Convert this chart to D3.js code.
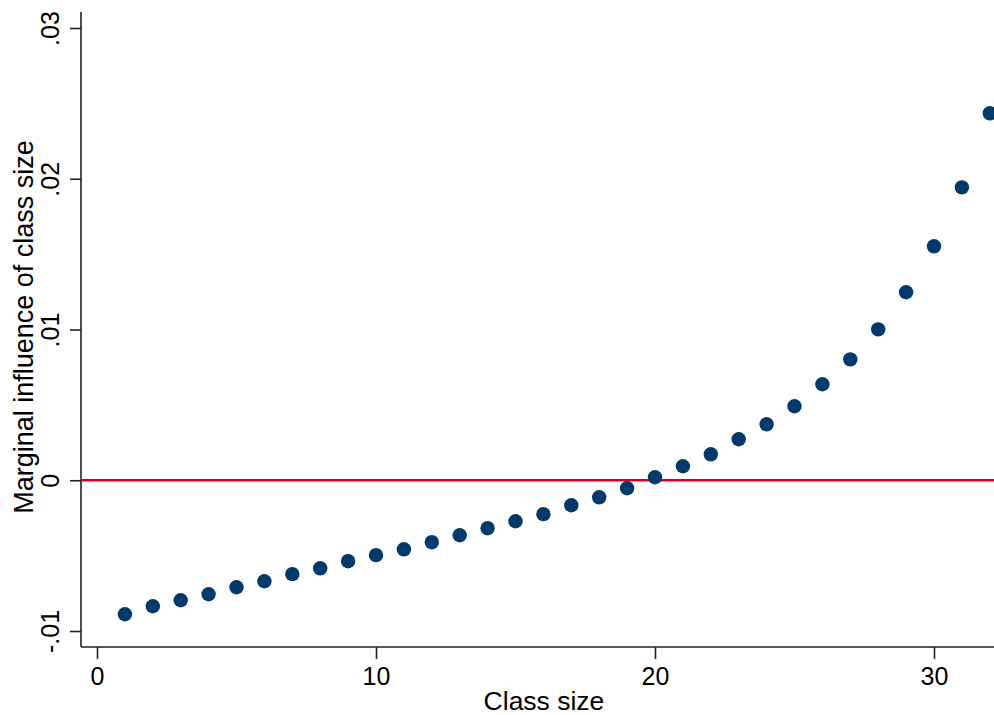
<!DOCTYPE html>
<html>
<head>
<meta charset="utf-8">
<script src="https://cdn.jsdelivr.net/npm/d3@7"></script>
<style>
  body { margin: 0; background: #fff; }
  svg { display: block; font-family: Arial, "Liberation Sans", sans-serif; }
</style>
</head>
<body>
<svg id="chart" width="994" height="715"></svg>
<script>
const classSize = [1,2,3,4,5,6,7,8,9,10,11,12,13,14,15,16,17,18,19,20,21,22,23,24,25,26,27,28,29,30,31,32];
const marginal = [-0.00889,-0.00836,-0.00796,-0.00756,-0.00710,-0.00670,-0.00623,-0.00584,-0.00537,-0.00497,
  -0.00458,-0.00411,-0.00365,-0.00318,-0.00272,-0.00225,-0.00166,-0.00113,-0.00053,0.00020,
  0.00093,0.00172,0.00272,0.00371,0.00491,0.00637,0.00802,0.01001,0.01247,0.01552,0.01943,0.02434];
const xTicks = [0,10,20,30];
const yTicks = [-0.01,0,0.01,0.02,0.03];
const yTickLabels = ["-.01","0",".01",".02",".03"];
const xTitle = "Class size";
const yTitle = "Marginal influence of class size";

const svg = d3.select("#chart");
const x = d3.scaleLinear().domain([0,30]).range([97,934]);
const y = d3.scaleLinear().domain([-0.01,0.03]).range([631,28]);
const axisX0 = 81, axisY0 = 647;

// axes lines
svg.append("line").attr("x1",axisX0).attr("x2",994).attr("y1",axisY0).attr("y2",axisY0)
  .attr("stroke","#222").attr("stroke-width",1.6);
svg.append("line").attr("x1",axisX0).attr("x2",axisX0).attr("y1",12).attr("y2",axisY0)
  .attr("stroke","#222").attr("stroke-width",1.6);

// x axis
const xAxis = d3.axisBottom(x).tickValues(xTicks).tickSize(12).tickPadding(8).tickFormat(d3.format("d"));
const gx = svg.append("g").attr("transform",`translate(0,${axisY0})`).call(xAxis);
gx.select(".domain").remove();
gx.selectAll(".tick line").attr("stroke","#222").attr("stroke-width",1.6);
gx.selectAll(".tick text").attr("font-size",25).attr("fill","#000").attr("font-family","Arial, 'Liberation Sans', sans-serif");

// y axis
const yAxis = d3.axisLeft(y).tickValues(yTicks).tickSize(11).tickPadding(0)
  .tickFormat((d,i)=>yTickLabels[i]);
const gy = svg.append("g").attr("transform",`translate(${axisX0},0)`).call(yAxis);
gy.select(".domain").remove();
gy.selectAll(".tick line").attr("stroke","#222").attr("stroke-width",1.6);
gy.selectAll(".tick text")
  .attr("font-size",25).attr("fill","#000").attr("font-family","Arial, 'Liberation Sans', sans-serif")
  .attr("x",null).attr("dy",null)
  .attr("text-anchor","middle")
  .attr("transform","translate(-22,0) rotate(-90)");

// zero line
svg.append("line").attr("x1",axisX0+1).attr("x2",994).attr("y1",y(0)).attr("y2",y(0))
  .attr("stroke","#d0002a").attr("stroke-width",2.5);

// dots
svg.append("g").selectAll("circle").data(classSize).join("circle")
  .attr("cx",(d)=>x(d)).attr("cy",(d,i)=>y(marginal[i])).attr("r",7.2)
  .attr("fill","#003a6c");

// titles
svg.append("text").attr("x",544).attr("y",710).attr("text-anchor","middle")
  .attr("font-size",26.5).attr("fill","#000").text(xTitle);
svg.append("text").attr("transform",`translate(33,327) rotate(-90)`).attr("text-anchor","middle")
  .attr("font-size",27).attr("fill","#000").text(yTitle);
</script>
</body>
</html>
